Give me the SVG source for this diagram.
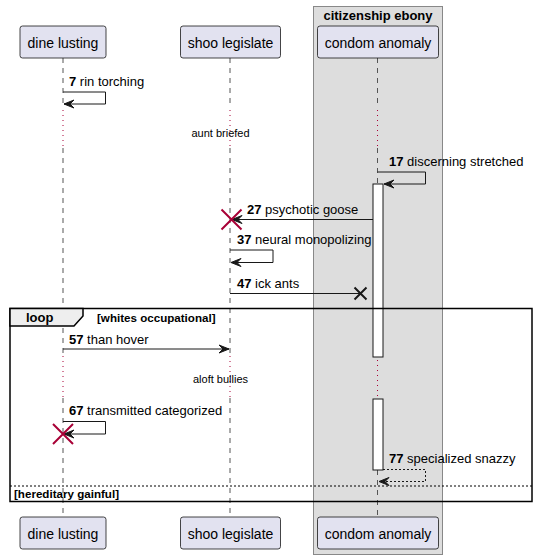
<svg xmlns="http://www.w3.org/2000/svg" width="537" height="559" viewBox="0 0 537 559">
<defs>
<style>
text{font-family:"Liberation Sans",Arial,sans-serif;fill:#000}
.pbox{fill:#E2E2F0;stroke:#181818;stroke-width:0.8}
.pname{font-size:14px;text-anchor:middle}
.msg{font-size:13px}
.num{font-weight:bold}
.life{stroke:#555;stroke-width:1;stroke-dasharray:5,5;fill:none}
.delay{stroke:#A80036;stroke-width:1;stroke-dasharray:1,4;fill:none}
.dtext{font-size:11px;text-anchor:middle}
.line{stroke:#181818;stroke-width:1;fill:none}
.dash{stroke:#181818;stroke-width:1;fill:none;stroke-dasharray:2,2}
.head{fill:#181818;stroke:#181818;stroke-width:1}
.act{fill:#fff;stroke:#181818;stroke-width:1}
.redx{stroke:#A80036;stroke-width:2}
.blkx{stroke:#181818;stroke-width:2}
.cond{font-size:11.6px;font-weight:bold}
</style>
</defs>
<g id="box-citizenship-ebony">
<rect x="313.5" y="6.5" width="129" height="548" fill="#DDDDDD" stroke="#888" stroke-width="1"/>
<text x="378" y="20" font-size="13" font-weight="bold" text-anchor="middle">citizenship ebony</text>
</g>
<g id="lifelines">
<path class="life" d="M63,58 V108 M63,148 V355 M63,398 V517"/>
<path class="delay" d="M63,110 V148 M63,356 V398"/>
<path class="life" d="M230,58 V108 M230,148 V355 M230,398 V517"/>
<path class="delay" d="M230,110 V148 M230,356 V398"/>
<path class="life" d="M377.5,58 V108 M377.5,148 V184 M377.5,470 V517"/>
<path class="delay" d="M377.5,110 V148 M377.5,360 V398"/>
</g>
<g id="p-dine-lusting">
<rect class="pbox" x="20" y="26" width="86" height="32" rx="2.5"/>
<text class="pname" x="63" y="48">dine lusting</text>
<rect class="pbox" x="20" y="517" width="86" height="32" rx="2.5"/>
<text class="pname" x="63" y="539">dine lusting</text>
</g>
<g id="p-shoo-legislate">
<rect class="pbox" x="180.5" y="26" width="100" height="32" rx="2.5"/>
<text class="pname" x="230.5" y="48">shoo legislate</text>
<rect class="pbox" x="180.5" y="517" width="100" height="32" rx="2.5"/>
<text class="pname" x="230.5" y="539">shoo legislate</text>
</g>
<g id="p-condom-anomaly">
<rect class="pbox" x="317.5" y="26" width="121" height="32" rx="2.5"/>
<text class="pname" x="378" y="48">condom anomaly</text>
<rect class="pbox" x="317.5" y="517" width="121" height="32" rx="2.5"/>
<text class="pname" x="378" y="539">condom anomaly</text>
</g>
<g id="activations">
<rect class="act" x="373" y="184" width="10" height="173"/>
<rect class="act" x="373" y="399" width="10" height="71"/>
</g>
<g id="loop-frame">
<rect x="10" y="308.5" width="522" height="193" fill="none" stroke="#000" stroke-width="1.5"/>
<polygon points="10,308.5 83,308.5 83,316 74,326 10,326" fill="#EEEEEE" stroke="#000" stroke-width="1.5"/>
<text x="26" y="322" font-size="13" font-weight="bold">loop</text>
<text class="cond" x="97" y="322">[whites occupational]</text>
<line x1="10" y1="486" x2="532" y2="486" stroke="#000" stroke-width="1" stroke-dasharray="2,2"/>
<text class="cond" x="14" y="497.5">[hereditary gainful]</text>
</g>
<g id="delays">
<text class="dtext" x="220.5" y="137">aunt briefed</text>
<text class="dtext" x="220.5" y="383">aloft bullies</text>
</g>
<g id="connectors">
<g id="m7">
<polyline class="line" points="63,92 105.5,92 105.5,104 64,104"/>
<polygon class="head" points="74,100 64,104 74,108 70,104"/>
<text class="msg" x="69" y="86"><tspan class="num">7</tspan> rin torching</text>
</g>
<g id="m17">
<polyline class="line" points="377.5,172 425.5,172 425.5,184 384,184"/>
<polygon class="head" points="394,180 384,184 394,188 390,184"/>
<text class="msg" x="389" y="166"><tspan class="num">17</tspan> discerning stretched</text>
</g>
<g id="m27">
<line class="line" x1="373" y1="219.5" x2="232" y2="219.5"/>
<polygon class="head" points="242,215.5 232,219.5 242,223.5 238,219.5"/>
<path class="redx" d="M221.5,209.5 L241.5,229.5 M241.5,209.5 L221.5,229.5"/>
<text class="msg" x="247" y="214"><tspan class="num">27</tspan> psychotic goose</text>
</g>
<g id="m37">
<polyline class="line" points="230,250 273,250 273,262.5 231,262.5"/>
<polygon class="head" points="241,258.5 231,262.5 241,266.5 237,262.5"/>
<text class="msg" x="237" y="244"><tspan class="num">37</tspan> neural monopolizing</text>
</g>
<g id="m47">
<line class="line" x1="230" y1="293.5" x2="360" y2="293.5"/>
<path class="blkx" d="M354.5,287.5 L366.5,299.5 M366.5,287.5 L354.5,299.5"/>
<text class="msg" x="237" y="288"><tspan class="num">47</tspan> ick ants</text>
</g>
<g id="m57">
<line class="line" x1="63" y1="349" x2="229" y2="349"/>
<polygon class="head" points="219,345 229,349 219,353 223,349"/>
<text class="msg" x="69" y="344"><tspan class="num">57</tspan> than hover</text>
</g>
<g id="m67">
<polyline class="line" points="63,421.5 105.5,421.5 105.5,434 64,434"/>
<polygon class="head" points="74,430 64,434 74,438 70,434"/>
<path class="redx" d="M53,424 L73,444 M73,424 L53,444"/>
<text class="msg" x="69" y="415"><tspan class="num">67</tspan> transmitted categorized</text>
</g>
<g id="m77">
<polyline class="dash" points="383,469.5 425.5,469.5 425.5,481.5 379,481.5"/>
<polygon class="head" points="389,477.5 379,481.5 389,485.5 385,481.5"/>
<text class="msg" x="389" y="463"><tspan class="num">77</tspan> specialized snazzy</text>
</g>
</g>
</svg>
